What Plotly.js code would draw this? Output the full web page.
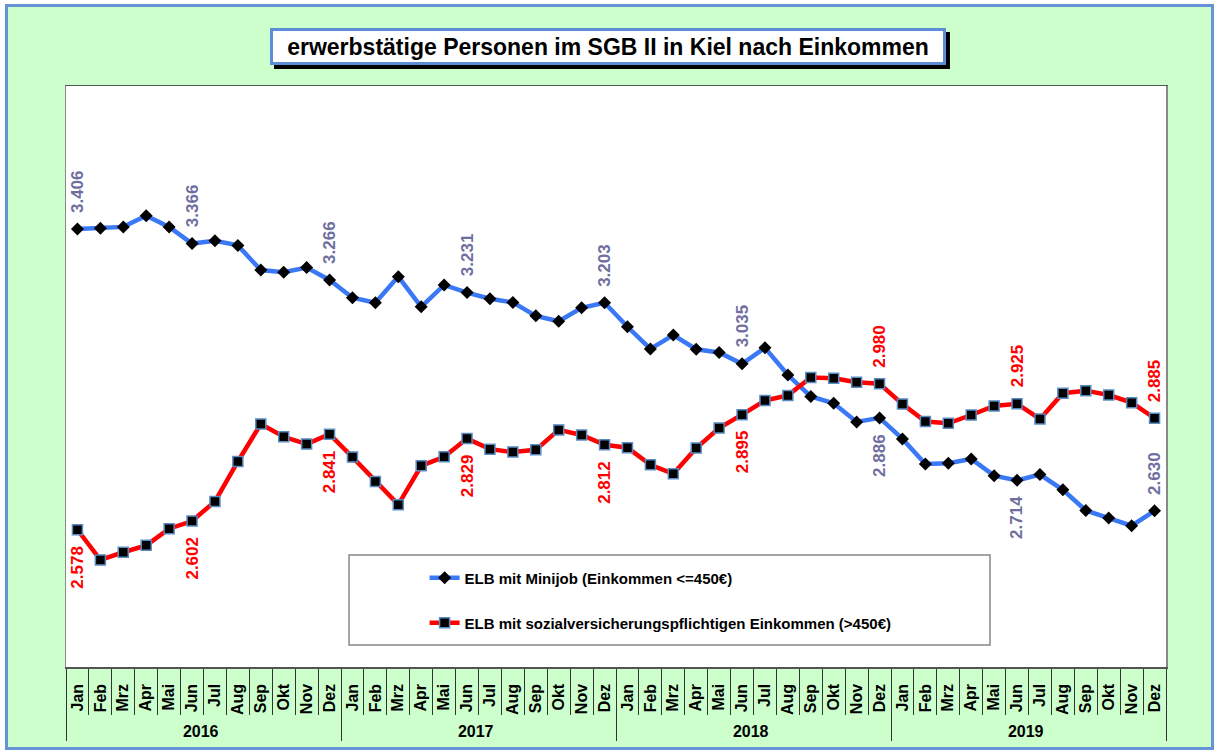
<!DOCTYPE html>
<html>
<head>
<meta charset="utf-8">
<script src="https://cdn.plot.ly/plotly-3.0.1.min.js"></script>
<style>
  html, body { margin: 0; padding: 0; background: #ffffff; }
  #frame { position: absolute; left: 5px; top: 4px; width: 1203px; height: 740px;
           background: #ccffcc; border: 3px solid #6494d6; }
  #chart { position: absolute; left: 0; top: 0; width: 1217px; height: 754px; }
</style>
</head>
<body>
<div id="frame"></div>
<div id="chart"></div>
<script>
// ---- data ----
const years = ['2016', '2017', '2018', '2019'];
const months = ['Jan', 'Feb', 'Mrz', 'Apr', 'Mai', 'Jun', 'Jul', 'Aug', 'Sep', 'Okt', 'Nov', 'Dez'];

const minijob = [
  3406, 3408, 3412, 3443, 3412, 3366, 3374, 3361, 3293, 3287, 3300, 3266,
  3217, 3203, 3275, 3192, 3252, 3231, 3214, 3204, 3167, 3152, 3189, 3203,
  3137, 3076, 3114, 3075, 3066, 3035, 3079, 3004, 2945, 2926, 2875, 2886,
  2828, 2759, 2761, 2773, 2727, 2714, 2730, 2688, 2631, 2610, 2589, 2630
];
const svpflichtig = [
  2578, 2495, 2516, 2535, 2581, 2602, 2656, 2766, 2869, 2834, 2814, 2841,
  2778, 2711, 2647, 2754, 2779, 2829, 2800, 2792, 2798, 2853, 2839, 2812,
  2804, 2757, 2732, 2803, 2858, 2895, 2934, 2948, 2997, 2995, 2984, 2980,
  2924, 2876, 2871, 2894, 2919, 2925, 2883, 2954, 2961, 2949, 2928, 2885
];

const seriesNames = ['ELB mit Minijob (Einkommen <=450€)', 'ELB mit sozialversicherungspflichtigen Einkommen (>450€)'];
const chartTitle = 'erwerbstätige Personen im SGB II in Kiel nach Einkommen';

// indices of labelled points, and side of label (1 = above, -1 = below)
const labelIdx = [0, 5, 11, 17, 23, 29, 35, 41, 47];
const minijobSide = [1, 1, 1, 1, 1, 1, -1, -1, 1];
const svpSide = [-1, -1, -1, -1, -1, -1, 1, 1, 1];

// ---- build ----
const xYear = [], xMonth = [];
years.forEach(y => months.forEach(m => { xYear.push(y); xMonth.push(m); }));
const xcat = [xYear, xMonth];

function fmt(v) { return Math.floor(v / 1000) + '.' + String(v % 1000).padStart(3, '0'); }

const traces = [
  {
    type: 'scatter', mode: 'lines+markers', x: xcat, y: minijob, name: seriesNames[0],
    line: { color: '#3b78f5', width: 4.5 },
    marker: { symbol: 'diamond', size: 10, color: '#000000' },
    legend: 'legend', hoverinfo: 'y'
  },
  {
    type: 'scatter', mode: 'lines+markers', x: xcat, y: svpflichtig, name: seriesNames[1],
    line: { color: '#ff0000', width: 4.5 },
    marker: { symbol: 'square', size: 10, color: '#000000', line: { color: '#5a8cc4', width: 1.5 } },
    legend: 'legend2', hoverinfo: 'y'
  }
];

const annotations = [];
labelIdx.forEach((i, k) => {
  [[minijob, minijobSide[k], '#6f6f9f'], [svpflichtig, svpSide[k], '#ff0000']].forEach(([arr, side, col]) => {
    annotations.push({
      xref: 'x', yref: 'y', x: i, y: arr[i], text: fmt(arr[i]), showarrow: false,
      textangle: -90, xanchor: 'center', yanchor: side > 0 ? 'bottom' : 'top', yshift: side > 0 ? 14 : -14,
      font: { family: 'Arial, Liberation Sans, sans-serif', size: 17, color: col, weight: 'bold' }
    });
  });
});

// title box
annotations.push({
  xref: 'paper', yref: 'paper', x: 0.4927, y: 1.068, xanchor: 'center', yanchor: 'middle',
  text: chartTitle, showarrow: false,
  width: 670, height: 31, borderpad: 0, bgcolor: '#ffffff', bordercolor: '#5b8ed6', borderwidth: 3,
  font: { family: 'Arial, Liberation Sans, sans-serif', size: 23, color: '#000000', weight: 'bold' }
});

const legendFont = { family: 'Arial, Liberation Sans, sans-serif', size: 15, color: '#000000', weight: 'bold' };

const layout = {
  width: 1217, height: 754,
  margin: { l: 66, r: 51, t: 86, b: 87, pad: 0 },
  paper_bgcolor: 'rgba(0,0,0,0)',
  plot_bgcolor: '#ffffff',
  showlegend: true,
  xaxis: {
    type: 'multicategory',
    range: [-0.5, 47.5], autorange: false,
    tickangle: -90,
    ticks: 'outside', ticklen: 46, tickwidth: 1, tickcolor: '#333333',
    ticklabelstandoff: 9,
    showline: true, linecolor: '#555555', linewidth: 1.5, mirror: true,
    showgrid: false, zeroline: false,
    showdividers: true, dividercolor: '#333333', dividerwidth: 1,
    tickfont: { family: 'Arial, Liberation Sans, sans-serif', size: 16, color: '#000000', weight: 'bold' }
  },
  yaxis: {
    range: [2200, 3800], showticklabels: false, ticks: '', showgrid: false, zeroline: false,
    showline: true, linecolor: '#888888', linewidth: 1.5, mirror: true
  },
  legend: {
    x: 0.326, y: 0.1532, xanchor: 'left', yanchor: 'middle',
    bgcolor: 'rgba(0,0,0,0)', borderwidth: 0, font: legendFont
  },
  legend2: {
    x: 0.326, y: 0.0757, xanchor: 'left', yanchor: 'middle',
    bgcolor: 'rgba(0,0,0,0)', borderwidth: 0, font: legendFont
  },
  shapes: [
    { // title shadow
      type: 'rect', xref: 'paper', yref: 'paper', x0: 0.1891, x1: 0.8036, y0: 1.0293, y1: 1.0929,
      fillcolor: '#000000', line: { width: 0 }, layer: 'above'
    },
    { // legend box
      type: 'rect', xref: 'paper', yref: 'paper', x0: 0.2573, x1: 0.84, y0: 0.0379, y1: 0.1928,
      fillcolor: '#ffffff', line: { color: '#888888', width: 1.5 }, layer: 'above'
    }
  ],
  annotations: annotations
};

Plotly.newPlot('chart', traces, layout, { displayModeBar: false, staticPlot: true });
</script>
</body>
</html>
